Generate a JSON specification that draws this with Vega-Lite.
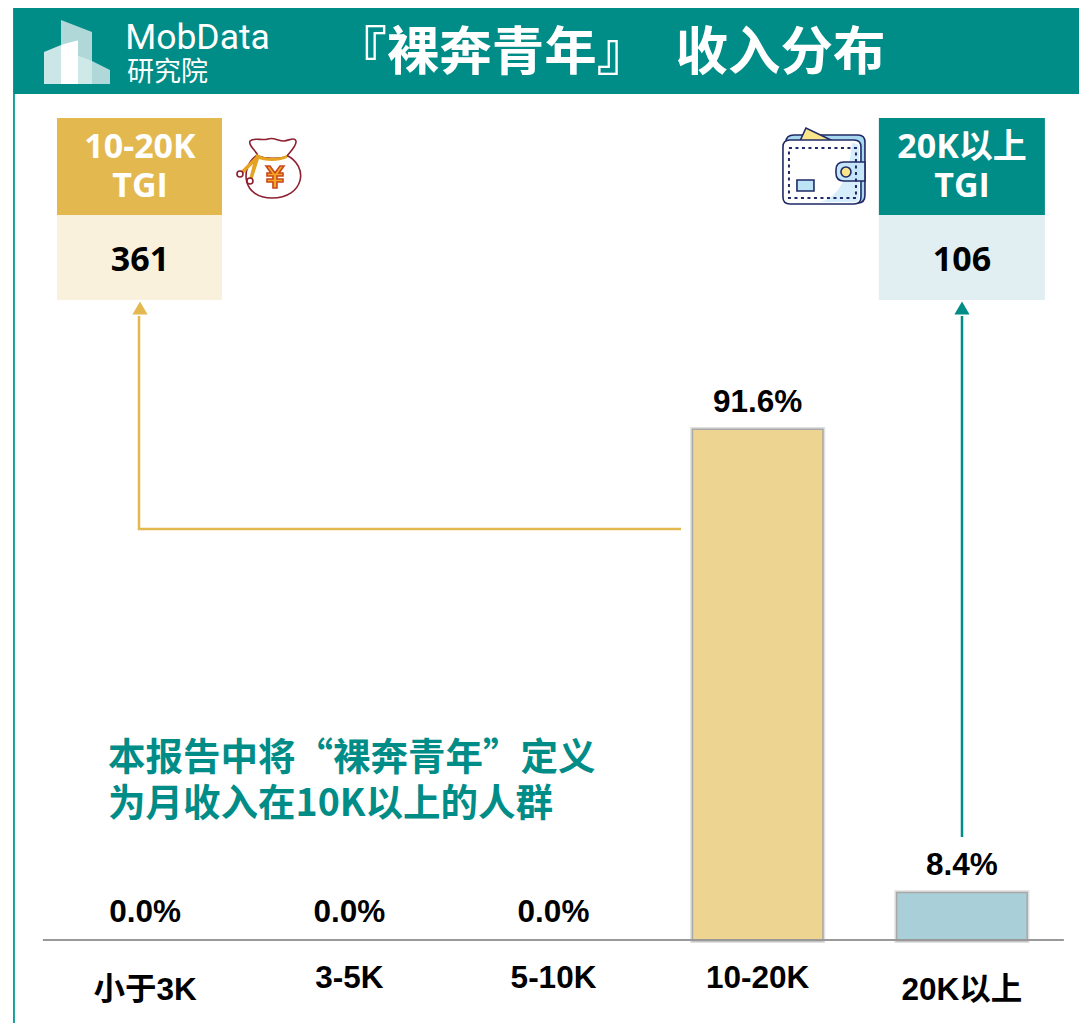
{"$schema":"https://vega.github.io/schema/vega-lite/v6.json","width":1079,"height":1023,"padding":0,"autosize":{"type":"fit","contains":"padding"},"background":"white","config":{"view":{"stroke":null}},
"encoding":{"x":{"field":"x","type":"quantitative","axis":null,"scale":{"domain":[-0.7101,4.574],"nice":false,"zero":false}},"y":{"field":"p","type":"quantitative","axis":null,"scale":{"domain":[-14.91,168.83],"nice":false,"zero":false}}},
"resolve":{"scale":{"x":"independent","fill":"independent","stroke":"independent","color":"independent","shape":"independent"}},
"layer":[
{"data":{"values":[
{"part":"header","x":-0.646,"x2":4.574,"p":167.39,"p2":151.95},
{"part":"frame","x":-0.6465,"x2":-0.637,"p":151.95,"p2":-14.91},
{"part":"goldHead","x":-0.431,"x2":0.377,"p":147.64,"p2":130.22},
{"part":"goldBody","x":-0.431,"x2":0.377,"p":130.22,"p2":114.95},
{"part":"tealHead","x":3.594,"x2":4.407,"p":147.64,"p2":130.22},
{"part":"tealBody","x":3.594,"x2":4.407,"p":130.22,"p2":114.95}]},
"mark":{"type":"rect"},
"encoding":{"x2":{"field":"x2"},"y2":{"field":"p2"},"fill":{"field":"part","type":"nominal","legend":null,"scale":{"domain":["header","frame","goldHead","goldBody","tealHead","tealBody"],"range":["#008C87","#12A09A","#E3B94F","#FAF1DD","#008C87","#E1EEF2"]}}}},
{"data":{"values":[
{"arrow":"10-20K","step":1,"x":2.625,"p":73.82},
{"arrow":"10-20K","step":2,"x":-0.0294,"p":73.82},
{"arrow":"10-20K","step":3,"x":-0.0294,"p":112.07},
{"arrow":"20K以上","step":1,"x":4.001,"p":18.5},
{"arrow":"20K以上","step":2,"x":4.001,"p":112.07}]},
"mark":{"type":"line","strokeWidth":2.5},
"encoding":{"order":{"field":"step"},"color":{"field":"arrow","type":"nominal","legend":null,"scale":{"domain":["10-20K","20K以上"],"range":["#E3B94F","#008C87"]}}}},
{"data":{"values":[{"arrow":"10-20K","x":-0.0245,"p":113.51},{"arrow":"20K以上","x":4.001,"p":113.51}]},
"mark":{"type":"point","shape":"triangle-up","filled":true,"opacity":1,"size":230},
"encoding":{"color":{"field":"arrow","type":"nominal","legend":null,"scale":{"domain":["10-20K","20K以上"],"range":["#E3B94F","#008C87"]}}}},
{"data":{"values":[
{"part":"logoBack","x":-0.333,"p":159.49},{"part":"logoLeft","x":-0.333,"p":159.49},{"part":"logoWhite","x":-0.333,"p":159.49},{"part":"logoMid","x":-0.333,"p":159.49},{"part":"logoRight","x":-0.333,"p":159.49},
{"part":"bagBody","x":0.612,"p":138.66},{"part":"bagTop","x":0.612,"p":138.66},{"part":"bagBand","x":0.612,"p":138.66},{"part":"bagString","x":0.612,"p":138.66},{"part":"bagBalls","x":0.612,"p":138.66},{"part":"bagYen","x":0.612,"p":138.66},
{"part":"wBack","x":3.325,"p":138.84},{"part":"wPaper","x":3.325,"p":138.84},{"part":"wFront","x":3.325,"p":138.84},{"part":"wShade","x":3.325,"p":138.84},{"part":"wClasp","x":3.325,"p":138.84},{"part":"wDot","x":3.325,"p":138.84},{"part":"wCard","x":3.325,"p":138.84}]},
"mark":{"type":"point","filled":true,"opacity":1,"size":4,"strokeWidth":1.6},
"encoding":{
"shape":{"field":"part","type":"nominal","legend":null,"scale":{"domain":["logoBack","logoLeft","logoWhite","logoMid","logoRight","bagBody","bagTop","bagBand","bagString","bagBalls","bagYen","wBack","wPaper","wFront","wShade","wClasp","wDot","wCard"],"range":[
"M-16,-32 L15,-20 L15,10 L1,3 L1,-12 L-16,-6 Z",
"M-33,0 L-16,-7 L-16,32 L-33,32 Z",
"M-16,-7 L1,-12 L1,32 L-16,32 Z",
"M1,3 L15,9 L15,32 L1,32 Z",
"M15,9 L33,18 L33,32 L15,32 Z",
"M-14,-12 C-30,0 -28,30 2,30 C34,30 40,-2 16,-13 Z",
"M-20,-27 C-16,-31 -8,-27 -2,-29 C4,-31 8,-27 14,-27 C20,-28 25,-31 26,-27 C27,-22 20,-16 16,-11 C8,-9 -4,-9 -12,-12 C-14,-18 -22,-22 -20,-27 Z",
"M-14,-14 C-4,-9 8,-9 17,-13 L17,-10 C8,-6 -4,-6 -14,-10 Z",
"M-14,-12 L-31,5 L-28,7 L-17,-4 L-21,12 L-18,13 L-11,-9 Z",
"M-33,6 a3,3 0 1,0 6,0 a3,3 0 1,0 -6,0 Z M-23,13 a3,3 0 1,0 6,0 a3,3 0 1,0 -6,0 Z",
"M-4,-2 L0,-2 L5,5 L10,-2 L14,-2 L9,5 L13,5 L13,8 L7,8 L7,11 L13,11 L13,14 L7,14 L7,20 L3,20 L3,14 L-3,14 L-3,11 L3,11 L3,8 L-3,8 L-3,5 L1,5 Z",
"M-38,-25 Q-38,-32 -30,-32 L34,-32 Q41,-32 41,-25 L41,28 Q41,36 34,36 L-30,36 Z",
"M-24,-26 L-18,-39 L9,-26 Z",
"M-41,-20 Q-41,-27 -34,-27 L30,-27 Q37,-27 37,-20 L37,30 Q37,37 30,37 L-34,37 Q-41,37 -41,30 Z",
"M28,-24 Q36,-24 35,-18 L35,30 Q35,35 30,35 L-4,35 Q24,28 28,-24 Z",
"M20,-5 L41,-5 L41,14 L20,14 Q12,14 12,6 L12,3 Q12,-5 20,-5 Z",
"M17,5 a5,5 0 1,1 10,0 a5,5 0 1,1 -10,0 Z",
"M-27,13 L-10,13 L-10,24 L-27,24 Z"]}},
"fill":{"field":"part","type":"nominal","legend":null,"scale":{"domain":["logoBack","logoLeft","logoWhite","logoMid","logoRight","bagBody","bagTop","bagBand","bagString","bagBalls","bagYen","wBack","wPaper","wFront","wShade","wClasp","wDot","wCard"],"range":["#B0D8D8","#CBE6E6","#FFFFFF","#CFE8E8","#B0D8D8","#FFFFFF","#FFFFFF","#E5A321","#E5A321","#FFFFFF","#F5A623","#A8D8F0","#FBE58A","#FFFFFF","#D6EEFB","#C5E6F8","#FBE58A","#BDE3F7"]}},
"stroke":{"field":"part","type":"nominal","legend":null,"scale":{"domain":["logoBack","logoLeft","logoWhite","logoMid","logoRight","bagBody","bagTop","bagBand","bagString","bagBalls","bagYen","wBack","wPaper","wFront","wShade","wClasp","wDot","wCard"],"range":["transparent","transparent","transparent","transparent","transparent","#8E1F30","#8E1F30","transparent","transparent","#8E1F30","#C8481E","#1F2A66","#1F2A66","#1F2A66","transparent","#1F2A66","#1F2A66","#1F2A66"]}}}},
{"data":{"values":[{"part":"wStitch","x":3.325,"p":138.84}]},
"mark":{"type":"point","filled":false,"opacity":1,"size":4,"strokeWidth":2,"strokeDash":[3,3.5],"color":"#1F2A66","shape":"M-35,-19 L32,-19 L32,31 L-35,31 Z"}},
{"data":{"values":[
{"income":"小于3K","share":0,"label":"0.0%"},
{"income":"3-5K","share":0,"label":"0.0%"},
{"income":"5-10K","share":0,"label":"0.0%"},
{"income":"10-20K","share":91.6,"label":"91.6%"},
{"income":"20K以上","share":8.4,"label":"8.4%"}]},
"encoding":{"x":{"field":"income","type":"nominal","axis":null,"scale":{"domain":["小于3K","3-5K","5-10K","10-20K","20K以上"],"range":[43,1064],"paddingInner":0.368,"paddingOuter":0.184}},"y":{"field":"share","type":"quantitative","stack":null,"axis":null,"scale":{"domain":[-14.91,168.83],"nice":false,"zero":false}}},
"layer":[
{"transform":[{"filter":"datum.share>0"}],"mark":{"type":"bar","fillOpacity":0,"stroke":"#555","strokeOpacity":0.18,"strokeWidth":6}},
{"transform":[{"filter":"datum.share>0"}],"mark":{"type":"bar","fillOpacity":0,"stroke":"#555","strokeOpacity":0.4,"strokeWidth":3}},
{"mark":{"type":"bar"},"encoding":{"fill":{"field":"income","type":"nominal","legend":null,"scale":{"domain":["小于3K","3-5K","5-10K","10-20K","20K以上"],"range":["#FFFFFF","#FFFFFF","#FFFFFF","#EDD491","#A9CFD8"]}}}},
{"mark":{"type":"text","font":"Liberation Sans, Noto Sans CJK SC","fontWeight":"bold","fontSize":31.5,"color":"#000","baseline":"middle","dy":-27},"encoding":{"text":{"field":"label"}}},
{"mark":{"type":"text","font":"Liberation Sans, Noto Sans CJK SC","fontWeight":"bold","fontSize":31.5,"color":"#000","baseline":"middle","dy":{"expr":"indexof(['小于3K','20K以上'],datum.income)>=0?51:39"}},"encoding":{"y":{"datum":0,"type":"quantitative","axis":null,"scale":{"domain":[-14.91,168.83],"nice":false,"zero":false}},"text":{"field":"income"}}}
]},
{"data":{"values":[{"x":-0.5,"x2":4.5,"p":0}]},"mark":{"type":"rule","color":"#999","strokeWidth":2},"encoding":{"x2":{"field":"x2"}}},
{"data":{"values":[{"t":"『裸奔青年』　收入分布","x":2.277,"p":159.14}]},"mark":{"type":"text","font":"Noto Sans CJK SC","fontWeight":"bold","fontSize":52.5,"color":"#FFF","baseline":"middle","align":"center"},"encoding":{"text":{"field":"t"}}},
{"data":{"values":[{"t":"MobData","x":-0.097,"p":162.0}]},"mark":{"type":"text","font":"Roboto","fontSize":35.5,"color":"#FFF","baseline":"middle","align":"left"},"encoding":{"text":{"field":"t"}}},
{"data":{"values":[{"t":"研究院","x":-0.088,"p":155.7}]},"mark":{"type":"text","font":"Noto Sans CJK SC","fontSize":27,"color":"#FFF","baseline":"middle","align":"left"},"encoding":{"text":{"field":"t"}}},
{"data":{"values":[{"t":"10-20K","x":-0.0245,"p":142.25},{"t":"TGI","x":-0.0245,"p":135.3},{"t":"20K以上","x":4.001,"p":142.25},{"t":"TGI","x":4.001,"p":135.3}]},"mark":{"type":"text","font":"Open Sans, Noto Sans CJK SC","fontWeight":"bold","fontSize":34,"color":"#FFF","baseline":"middle","align":"center"},"encoding":{"text":{"field":"t"}}},
{"data":{"values":[{"t":"361","x":-0.0245,"p":122.0},{"t":"106","x":4.001,"p":122.0}]},"mark":{"type":"text","font":"Open Sans","fontWeight":"bold","fontSize":34,"color":"#000","baseline":"middle","align":"center"},"encoding":{"text":{"field":"t"}}},
{"data":{"values":[{"t":"本报告中将“裸奔青年”定义","x":-0.181,"p":32.5},{"t":"为月收入在10K以上的人群","x":-0.181,"p":24.25}]},"mark":{"type":"text","font":"Noto Sans CJK SC","fontWeight":"bold","fontSize":37.5,"color":"#008C87","baseline":"middle","align":"left"},"encoding":{"text":{"field":"t"}}}
]}
